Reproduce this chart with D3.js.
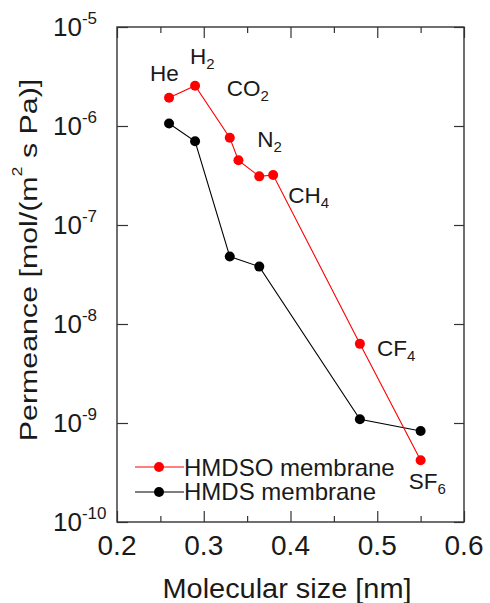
<!DOCTYPE html>
<html>
<head>
<meta charset="utf-8">
<script src="https://cdn.jsdelivr.net/npm/d3@7"></script>
<style>
  body { margin: 0; background: #fff; }
  text { font-family: "Liberation Sans", Arial, sans-serif; fill: #1a1a1a; }
</style>
</head>
<body>
<script>
// HMDSO membrane (red)
var sizeHMDSO = [0.26, 0.29, 0.33, 0.34, 0.364, 0.38, 0.48, 0.55];
var permHMDSO = [1.93e-6, 2.55e-6, 7.6e-7, 4.5e-7, 3.1e-7, 3.2e-7, 6.3e-9, 4.2e-10];
// HMDS membrane (black)
var sizeHMDS = [0.26, 0.29, 0.33, 0.364, 0.48, 0.55];
var permHMDS = [1.06e-6, 7.0e-7, 4.8e-8, 3.8e-8, 1.09e-9, 8.3e-10];

var gasNames = ["He", "H", "CO", "N", "CH", "CF", "SF"];
var gasSubs = ["", "2", "2", "2", "4", "4", "6"];
var gasIndex = [0, 1, 2, 4, 5, 6, 7];   // which HMDSO point each label belongs to
var labelOffset = [[-19, -17], [-5, -22], [-3, -42], [-2, -29], [15, 28], [17, 12], [-12, 29]];

var xTicks = [0.2, 0.3, 0.4, 0.5, 0.6];
var xMinor = [0.25, 0.35, 0.45, 0.55];
var yExps = [-5, -6, -7, -8, -9, -10];

var seriesNames = ["HMDSO membrane", "HMDS membrane"];
var seriesColors = ["#ff0000", "#000000"];

var width = 490, height = 603;
// note: "top" is taken by window.top, so plot edges get their own names
var pLeft = 117, pRight = 464, pTop = 27, pBottom = 522;

var x = d3.scaleLinear().domain([0.2, 0.6]).range([pLeft, pRight]);
var y = d3.scaleLog().domain([1e-10, 1e-5]).range([pBottom, pTop]);

var svg = d3.select("body").append("svg")
	.attr("width", width)
	.attr("height", height);

// axes, ticks pointing inwards on all four sides
function tidy(g) {
	g.select(".domain").remove();
	g.selectAll(".tick line").attr("stroke", "#333").attr("stroke-width", 1.2);
	g.selectAll(".tick text").remove();
}
var decades = yExps.map(function(e) { return Math.pow(10, e); });
svg.append("g").attr("transform", "translate(0," + pBottom + ")")
	.call(d3.axisBottom(x).tickValues(xTicks).tickSize(-11)).call(tidy);
svg.append("g").attr("transform", "translate(0," + pBottom + ")")
	.call(d3.axisBottom(x).tickValues(xMinor).tickSize(-6)).call(tidy);
svg.append("g").attr("transform", "translate(0," + pTop + ")")
	.call(d3.axisTop(x).tickValues(xTicks).tickSize(-11)).call(tidy);
svg.append("g").attr("transform", "translate(0," + pTop + ")")
	.call(d3.axisTop(x).tickValues(xMinor).tickSize(-6)).call(tidy);
svg.append("g").attr("transform", "translate(" + pLeft + ",0)")
	.call(d3.axisLeft(y).tickValues(decades).tickSize(-11)).call(tidy);
svg.append("g").attr("transform", "translate(" + pRight + ",0)")
	.call(d3.axisRight(y).tickValues(decades).tickSize(-10)).call(tidy);

svg.append("rect")
	.attr("x", pLeft).attr("y", pTop)
	.attr("width", pRight - pLeft).attr("height", pBottom - pTop)
	.attr("fill", "none").attr("stroke", "#333").attr("stroke-width", 1.4);

// tick labels
svg.selectAll(".xlab").data(xTicks).enter().append("text")
	.attr("class", "xlab")
	.attr("x", function(d) { return x(d); })
	.attr("y", 555)
	.attr("text-anchor", "middle")
	.style("font-size", "28px")
	.text(function(d) { return d.toFixed(1); });

var ylab = svg.selectAll(".ylab").data(yExps).enter().append("text")
	.attr("class", "ylab")
	.attr("x", 53)
	.attr("y", function(d) { return y(Math.pow(10, d)) + 9; })
	.style("font-size", "26px");
ylab.append("tspan").text("10");
ylab.append("tspan").attr("dy", -12).style("font-size", "17px")
	.text(function(d) { return d; });

// axis titles
svg.append("text")
	.attr("x", 287).attr("y", 598)
	.attr("text-anchor", "middle")
	.attr("textLength", 249).attr("lengthAdjust", "spacingAndGlyphs")
	.style("font-size", "27px")
	.text("Molecular size [nm]");

var yt = svg.append("text")
	.attr("transform", "translate(37,260) rotate(-90) scale(1.265,1)")
	.attr("text-anchor", "middle")
	.style("font-size", "24px");
yt.append("tspan").text("Permeance [mol/(m");
yt.append("tspan").attr("dy", -15).style("font-size", "14px").text("2");
yt.append("tspan").attr("dy", 15).text(" s Pa)]");

// series
var series = [
	{ xs: sizeHMDSO, ys: permHMDSO },
	{ xs: sizeHMDS, ys: permHMDS }
];
var line = d3.line()
	.x(function(d) { return x(d[0]); })
	.y(function(d) { return y(d[1]); });

// draw black first so red sits on top
[1, 0].forEach(function(s) {
	var pts = d3.zip(series[s].xs, series[s].ys);
	svg.append("path")
		.datum(pts)
		.attr("d", line)
		.attr("fill", "none")
		.attr("stroke", seriesColors[s])
		.attr("stroke-width", 1.1);
	svg.selectAll(".pt" + s).data(pts).enter().append("circle")
		.attr("class", "pt" + s)
		.attr("cx", function(d) { return x(d[0]); })
		.attr("cy", function(d) { return y(d[1]); })
		.attr("r", 5)
		.attr("fill", seriesColors[s]);
});

// gas labels
var gl = svg.selectAll(".gas").data(gasNames).enter().append("text")
	.attr("class", "gas")
	.attr("x", function(d, i) { return x(sizeHMDSO[gasIndex[i]]) + labelOffset[i][0]; })
	.attr("y", function(d, i) { return y(permHMDSO[gasIndex[i]]) + labelOffset[i][1]; })
	.style("font-size", "22.5px");
gl.append("tspan").text(function(d) { return d; });
gl.append("tspan").attr("dy", 5).style("font-size", "15px")
	.text(function(d, i) { return gasSubs[i]; });

// legend
var legY = [467, 492];
var legTextY = [476, 499.5];
seriesNames.forEach(function(name, i) {
	svg.append("line")
		.attr("x1", 135).attr("x2", 184)
		.attr("y1", legY[i]).attr("y2", legY[i])
		.attr("stroke", seriesColors[i]).attr("stroke-width", 1.1);
	svg.append("circle")
		.attr("cx", 159).attr("cy", legY[i]).attr("r", 5)
		.attr("fill", seriesColors[i]);
	svg.append("text")
		.attr("x", 184).attr("y", legTextY[i])
		.style("font-size", "24px")
		.text(name);
});
</script>
</body>
</html>
